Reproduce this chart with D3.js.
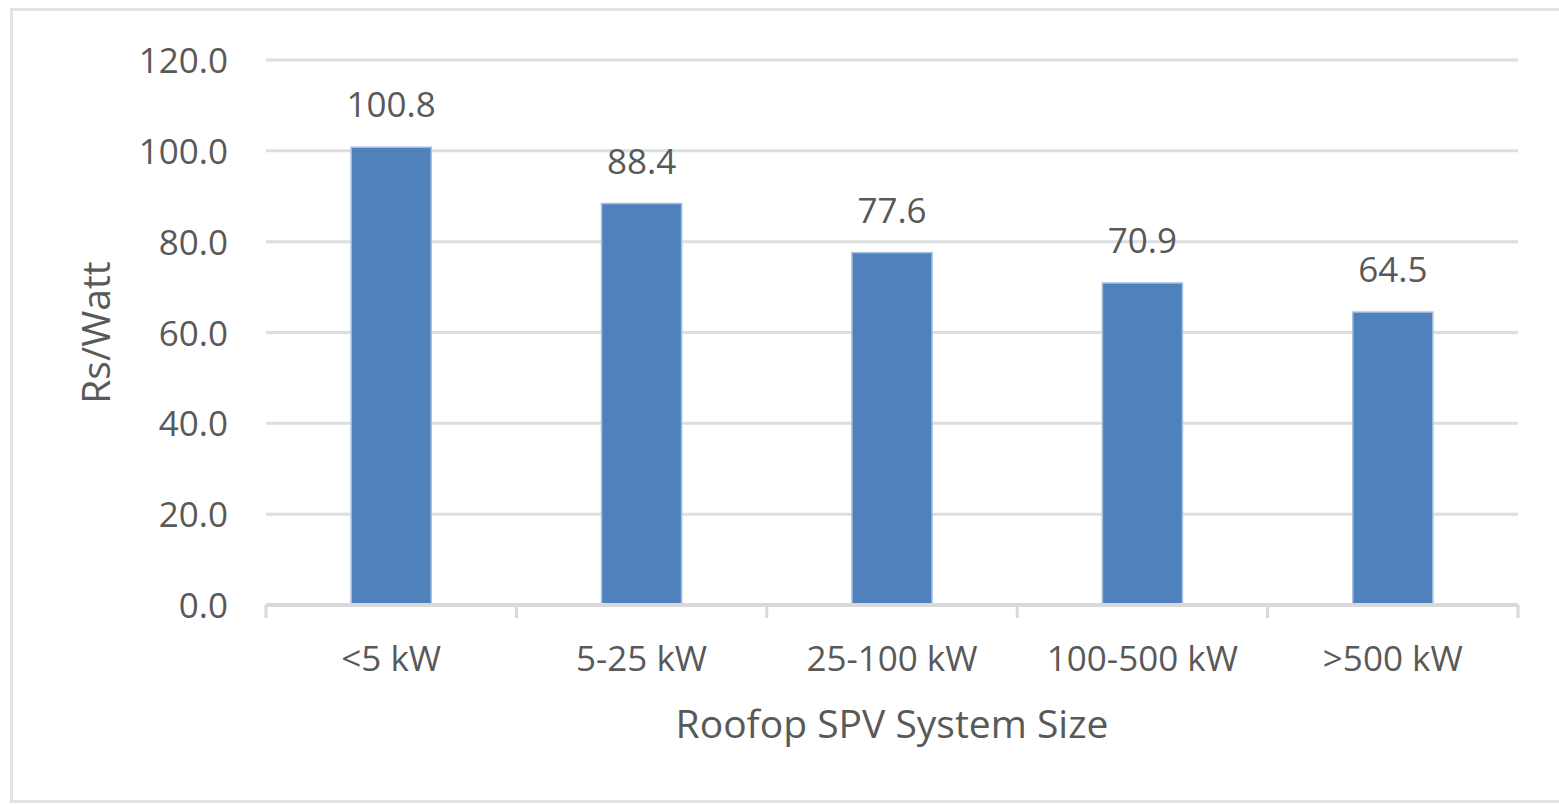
<!DOCTYPE html>
<html>
<head>
<meta charset="utf-8">
<script src="https://cdn.jsdelivr.net/npm/d3@7/dist/d3.min.js"></script>
<style>
  html, body { margin: 0; padding: 0; background: #fff; }
  svg { display: block; }
  text { font-family: "Open Sans", "Noto Sans", sans-serif; fill: #595959; }
</style>
</head>
<body>
<svg id="chart" width="1559" height="805"></svg>
<script>
// Installed cost by rooftop system size
const categories = ["<5 kW", "5-25 kW", "25-100 kW", "100-500 kW", ">500 kW"];
const costs = [100.8, 88.4, 77.6, 70.9, 64.5];
const yTicks = [0, 20, 40, 60, 80, 100, 120];
const xTitle = "Roofop SPV System Size";
const yTitle = "Rs/Watt";

const W = 1559, H = 805;
const plot = { left: 266, right: 1518, top: 60, bottom: 605 };

const svg = d3.select("#chart");

// chart frame
svg.append("rect")
  .attr("x", 11.5).attr("y", 9.5)
  .attr("width", W + 20).attr("height", 792)
  .attr("fill", "#fff")
  .attr("stroke", "#e2e2e2")
  .attr("stroke-width", 3);

const x = d3.scaleBand()
  .domain(categories)
  .range([plot.left, plot.right])
  .paddingInner(0.68)
  .paddingOuter(0.34);

const xOuter = d3.scaleBand()
  .domain(categories)
  .range([plot.left, plot.right]);

const y = d3.scaleLinear()
  .domain([0, 120])
  .range([plot.bottom, plot.top]);

// horizontal gridlines
svg.append("g")
  .selectAll("line")
  .data(yTicks.filter(d => d > 0))
  .join("line")
  .attr("x1", plot.left).attr("x2", plot.right)
  .attr("y1", d => y(d)).attr("y2", d => y(d))
  .attr("stroke", "#dedede")
  .attr("stroke-width", 3);

// y axis labels
const yAxis = svg.append("g")
  .attr("transform", `translate(${228},0)`)
  .call(d3.axisLeft(y).tickValues(yTicks).tickFormat(d3.format(".1f")).tickSize(0).tickPadding(0));
yAxis.select(".domain").remove();
yAxis.selectAll("text")
  .attr("font-size", 35)
  .attr("fill", "#595959")
  .attr("dy", "0.36em")
  .style("font-family", '"Open Sans", "Noto Sans", sans-serif');

// bars
svg.append("g")
  .selectAll("rect")
  .data(costs)
  .join("rect")
  .attr("x", (d, i) => x(categories[i]))
  .attr("width", x.bandwidth())
  .attr("y", d => y(d))
  .attr("height", d => y(0) - y(d))
  .attr("fill", "#4f81bd")
  .attr("stroke", "#a8c0e0")
  .attr("stroke-width", 1.5);

// x axis line with category boundary ticks
const bounds = categories.map(c => xOuter(c)).concat([plot.right]);
svg.append("line")
  .attr("x1", plot.left).attr("x2", plot.right)
  .attr("y1", y(0)).attr("y2", y(0))
  .attr("stroke", "#d9d9d9")
  .attr("stroke-width", 4);
svg.append("g")
  .selectAll("line")
  .data(bounds)
  .join("line")
  .attr("x1", d => d).attr("x2", d => d)
  .attr("y1", y(0)).attr("y2", y(0) + 13)
  .attr("stroke", "#d9d9d9")
  .attr("stroke-width", 3);

// category labels
svg.append("g")
  .selectAll("text")
  .data(categories)
  .join("text")
  .attr("x", d => x(d) + x.bandwidth() / 2)
  .attr("y", 671)
  .attr("text-anchor", "middle")
  .attr("font-size", 35)
  .text(d => d);

// value labels
svg.append("g")
  .selectAll("text")
  .data(costs)
  .join("text")
  .attr("x", (d, i) => x(categories[i]) + x.bandwidth() / 2)
  .attr("y", d => y(d) - 30)
  .attr("text-anchor", "middle")
  .attr("font-size", 35)
  .text(d => d3.format(".1f")(d));

// axis titles
svg.append("text")
  .attr("x", (plot.left + plot.right) / 2)
  .attr("y", 738)
  .attr("text-anchor", "middle")
  .attr("font-size", 39)
  .text(xTitle);

svg.append("text")
  .attr("transform", `translate(110, ${(plot.top + plot.bottom) / 2}) rotate(-90)`)
  .attr("text-anchor", "middle")
  .attr("font-size", 39)
  .text(yTitle);
</script>
</body>
</html>
